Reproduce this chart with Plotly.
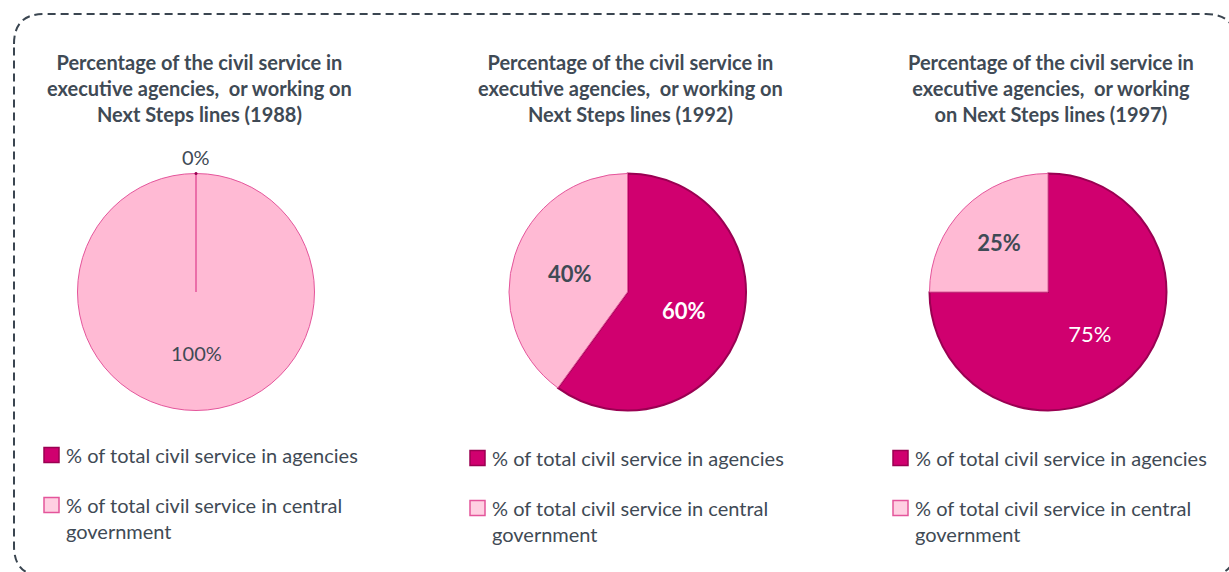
import plotly.graph_objects as go

W, H = 1229, 572

# Survey years and the two shares of the civil service (percent)
years = ["1988", "1992", "1997"]
agencies = [0, 60, 75]
central = [100, 40, 25]
series_names = ["% of total civil service in agencies",
                "% of total civil service in central<br>government"]
titles = [
    "Percentage of the civil service in<br>executive agencies,  or working on<br>Next Steps lines (1988)",
    "Percentage of the civil service in<br>executive agencies,  or working on<br>Next Steps lines (1992)",
    "Percentage of the civil service in<br>executive agencies,  or working<br>on Next Steps lines (1997)",
]

FONT = "Lato"
TEXT = "#3f4a55"
DARK = "#d0006f"
DARK_EDGE = "#9a0052"
LIGHT = "#ffbad4"
LIGHT_EDGE = "#e4559b"

# pie centres / radius in pixels
centers_x = [196, 627.5, 1048]
center_y = 292
radius = 118.5


def px(x):
    return x / W


def py(y):
    return 1 - y / H


fig = go.Figure()

# label styling per year: (weight, colour, size) for [agencies, central]
label_styles = [
    [("normal", TEXT, 20), ("normal", TEXT, 20)],
    [("bold", "white", 22), ("bold", TEXT, 22)],
    [("normal", "white", 22), ("bold", TEXT, 22)],
]

for i, yr in enumerate(years):
    cx = centers_x[i]
    vals = [agencies[i], central[i]]
    styles = label_styles[i]
    texts = [(f"<b>{v}%</b>" if s[0] == "bold" else f"{v}%") for v, s in zip(vals, styles)]
    fig.add_trace(go.Pie(
        labels=series_names,
        values=vals,
        sort=False,
        direction="clockwise",
        rotation=0,
        text=texts if i > 0 else None,
        textinfo="text" if i > 0 else "none",
        textposition="inside",
        insidetextorientation="horizontal",
        textfont=dict(family=FONT, color=[s[1] for s in styles], size=[s[2] for s in styles]),
        marker=dict(colors=[DARK, LIGHT],
                    line=dict(color=[DARK_EDGE, LIGHT_EDGE], width=[2, 1])),
        domain=dict(x=[px(cx - radius), px(cx + radius)],
                    y=[py(center_y + radius), py(center_y - radius)]),
        showlegend=False,
        hoverinfo="label+percent",
    ))

annotations = []
shapes = []

# chart titles
for i, t in enumerate(titles):
    annotations.append(dict(
        x=px(centers_x[i] + 3), y=py(48), xref="paper", yref="paper",
        xanchor="center", yanchor="top", text=t, showarrow=False, align="center",
        font=dict(family=FONT, size=20, color=TEXT, weight="bold")))

# 1988: zero slice label on top, full-circle label below centre
annotations.append(dict(
    x=px(centers_x[0]), y=py(center_y - radius - 3), xref="paper", yref="paper",
    xanchor="center", yanchor="bottom", text=f"{agencies[0]}%", showarrow=False,
    font=dict(family=FONT, size=20, color=TEXT)))
annotations.append(dict(
    x=px(centers_x[0]), y=py(center_y + 61), xref="paper", yref="paper",
    xanchor="center", yanchor="middle", text=f"{central[0]}%", showarrow=False,
    font=dict(family=FONT, size=20, color=TEXT)))
# radial edge of the empty slice
if agencies[0] == 0:
    shapes.append(dict(type="line", xref="paper", yref="paper",
                       x0=px(centers_x[0]), x1=px(centers_x[0]),
                       y0=py(center_y), y1=py(center_y - radius),
                       line=dict(color=LIGHT_EDGE, width=1.5)))
    shapes.append(dict(type="circle", xref="paper", yref="paper",
                       x0=px(centers_x[0] - 1.5), x1=px(centers_x[0] + 1.5),
                       y0=py(center_y - radius + 1.5), y1=py(center_y - radius - 1.5),
                       fillcolor=DARK_EDGE, line=dict(width=0)))

# hand-placed legends under each pie
legend_sq_x = [44, 470, 893]
legend_rows = [[455, 505], [458, 508], [458, 508]]
sq = 15
for i in range(3):
    x0 = legend_sq_x[i]
    for k, (name, fill, edge) in enumerate([(series_names[0], DARK, DARK_EDGE),
                                            (series_names[1], "#ffd0e2", LIGHT_EDGE)]):
        yc = legend_rows[i][k]
        shapes.append(dict(type="rect", xref="paper", yref="paper",
                           x0=px(x0), x1=px(x0 + sq), y0=py(yc + sq / 2), y1=py(yc - sq / 2),
                           fillcolor=fill, line=dict(color=edge, width=1.5)))
        annotations.append(dict(
            x=px(x0 + sq + 5), y=py(yc - 14), xref="paper", yref="paper",
            xanchor="left", yanchor="top", text=name, showarrow=False, align="left",
            font=dict(family=FONT, size=20, color=TEXT)))

# dashed rounded frame
x0, y0, x1, y1, r = 14, 14, 1236, 576, 30
path = (f"M {px(x0)},{py(y0 + r)} Q {px(x0)},{py(y0)} {px(x0 + r)},{py(y0)} "
        f"L {px(x1 - r)},{py(y0)} Q {px(x1)},{py(y0)} {px(x1)},{py(y0 + r)} "
        f"L {px(x1)},{py(y1 - r)} Q {px(x1)},{py(y1)} {px(x1 - r)},{py(y1)} "
        f"L {px(x0 + r)},{py(y1)} Q {px(x0)},{py(y1)} {px(x0)},{py(y1 - r)} Z")
shapes.append(dict(type="path", xref="paper", yref="paper", path=path,
                   line=dict(color="#3a4550", width=2, dash="8px,5px")))

fig.update_layout(
    width=W, height=H,
    margin=dict(l=0, r=0, t=0, b=0),
    paper_bgcolor="white", plot_bgcolor="white",
    annotations=annotations, shapes=shapes,
    font=dict(family=FONT),
)

fig.write_html("out.html", config={"displayModeBar": False})
